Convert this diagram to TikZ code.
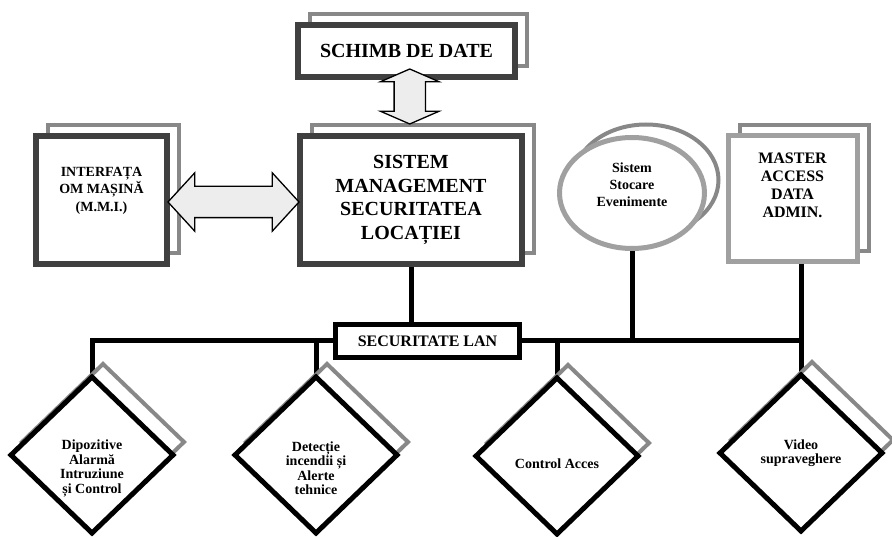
\documentclass[tikz,border=0pt]{standalone}
\usepackage{fontspec}
\setmainfont{Liberation Serif}
\usetikzlibrary{positioning,calc,shapes.geometric,shapes.arrows,shadows,backgrounds}
\definecolor{boxdark}{HTML}{404040}
\definecolor{boxgray}{HTML}{A0A0A0}
\definecolor{shadegray}{HTML}{888888}
\definecolor{arrowfill}{HTML}{EDEDED}

\begin{document}
\begin{tikzpicture}[x=1pt,y=-1pt]

\tikzset{
sh/.style={copy shadow={shadow xshift=12pt,shadow yshift=11pt,draw=shadegray,fill=white,line width=4pt}},
b/.style={
    draw=boxdark,
    line width=5.5pt,
    fill=white,
    inner sep=0pt,
    outer sep=0pt,
    align=center,
    sh
},
g/.style={b,draw=boxgray,line width=5pt},
d/.style={
    diamond,
    draw=black,
    line width=5pt,
    fill=white,
    inner sep=0pt,
    outer sep=0pt,
    align=center,
    minimum width=162pt,
    minimum height=156pt,
    font=\bfseries\fontsize{14}{14.5}\selectfont,
    copy shadow={shadow xshift=11pt,shadow yshift=13pt,draw=shadegray,fill=white,line width=4pt}
},
l/.style={line width=5pt,draw=black},
da/.style={
    double arrow,
    draw=black,
    line width=1.3pt,
    fill=arrowfill,
    inner xsep=0pt,
    inner ysep=15pt,
    minimum width=57pt,
    double arrow head extend=13.5pt
}
}

\useasboundingbox (0,0) rectangle (892,537);

\node[b,minimum width=217pt,minimum height=52pt,font=\bfseries\fontsize{20}{22}\selectfont] (schimb) at (406.5,51) {SCHIMB DE DATE};
\node[b,minimum width=222pt,minimum height=128pt,font=\bfseries\fontsize{20}{23.5}\selectfont] (sms) at (411,200) {SISTEM\\MANAGEMENT\\SECURITATEA\\LOCAȚIEI};
\node[b,minimum width=131pt,minimum height=128pt,text depth=22pt,font=\bfseries\fontsize{14}{17.5}\selectfont] (mmi) at (101.5,200) {INTERFAȚA\\OM MAȘINĂ\\(M.M.I.)};
\node[g,minimum width=129pt,minimum height=126pt,text depth=28pt,font=\bfseries\fontsize{16}{18}\selectfont] (master) at (792.5,199) {MASTER\\ACCESS\\DATA\\ADMIN.};
\node[ellipse,draw=boxgray,line width=5pt,fill=white,inner sep=0pt,outer sep=0pt,align=center,minimum width=145pt,minimum height=111pt,text depth=16pt,font=\bfseries\fontsize{14}{17}\selectfont,
      copy shadow={shadow xshift=14pt,shadow yshift=13pt,draw=shadegray,fill=white,line width=4pt}] (store) at (632,193) {Sistem\\Stocare\\Evenimente};
\node[draw=black,line width=5pt,fill=white,outer sep=0pt,minimum width=184pt,minimum height=33pt,font=\bfseries\fontsize{16}{18}\selectfont] (lan) at (427.5,341) {SECURITATE LAN};

\node[d,text height=80pt] (alarm) at (92,455) {Dipozitive\\Alarmă\\Intruziune\\și Control};
\node[d,text height=80pt] (fire) at (316,455) {Detecție\\incendii și\\Alerte\\tehnice};
\node[d,text height=26pt] (access) at (557,456) {Control Acces};
\node[d] (video) at (801,453) {Video\\supraveghere};

\begin{scope}[on background layer]
\draw[l] (alarm.north) |- (lan.west);
\draw[l] (lan.east) -| (video.north);
\draw[l] (fire.north) -- (fire.north |- lan.west);
\draw[l] (access.north) -- (access.north |- lan.east);
\draw[l] (store.south) -- (store.south |- lan.east);
\draw[l] (master.south -| video.north) -- (video.north);
\draw[l] (sms.south) -- (sms.south |- lan.north);
\end{scope}

\node[da,minimum height=131pt,double arrow tip angle=95,yshift=-2pt] (mmilink) at ($(mmi.east)!0.5!(sms.west)$) {};
\node[da,minimum height=55pt,double arrow tip angle=133,rotate=90,xshift=10pt,yshift=-1pt] (datalink) at ($(schimb.south)!0.5!(sms.north)$) {};

\end{tikzpicture}
\end{document}
